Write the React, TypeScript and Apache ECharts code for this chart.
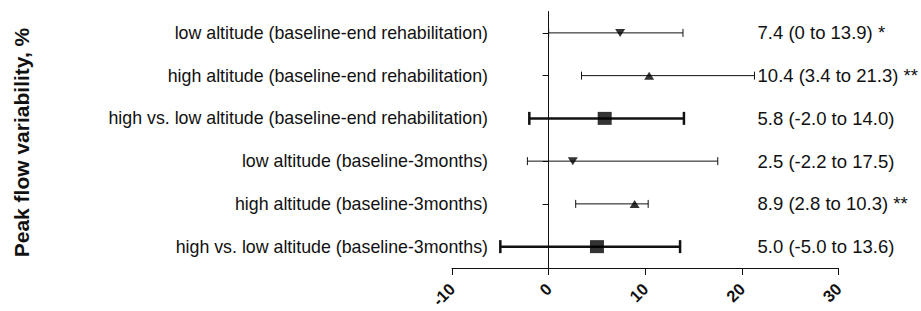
import React, { useEffect, useRef } from "react";
import * as echarts from "echarts";

const categories = [
  "low altitude (baseline-end rehabilitation)",
  "high altitude (baseline-end rehabilitation)",
  "high vs. low altitude (baseline-end rehabilitation)",
  "low altitude (baseline-3months)",
  "high altitude (baseline-3months)",
  "high vs. low altitude (baseline-3months)",
];
const estimates = [7.4, 10.4, 5.8, 2.5, 8.9, 5.0];
const lowerCI = [0, 3.4, -2.0, -2.2, 2.8, -5.0];
const upperCI = [13.9, 21.3, 14.0, 17.5, 10.3, 13.6];
const rowKind = ["low", "high", "diff", "low", "high", "diff"];
const annotations = [
  "7.4 (0 to 13.9) *",
  "10.4 (3.4 to 21.3) **",
  "5.8 (-2.0 to 14.0)",
  "2.5 (-2.2 to 17.5)",
  "8.9 (2.8 to 10.3) **",
  "5.0 (-5.0 to 13.6)",
];
const xTicks = [-10, 0, 10, 20, 30];
const yTitle = "Peak flow variability, %";

const FONT = "'Liberation Sans', Arial, sans-serif";
const INK = "#111";

export default function App() {
  const ref = useRef<HTMLDivElement>(null);
  useEffect(() => {
    if (!ref.current) return;
    const chart = echarts.init(ref.current, null, { renderer: "svg" });
    const ciData = categories.map((_, i) => [lowerCI[i], upperCI[i], i, rowKind[i] === "diff" ? 1 : 0]);
    const ptData = categories.map((_, i) => {
      const k = rowKind[i];
      if (k === "diff") return { value: [estimates[i], i], symbol: "rect", symbolSize: [14, 13] };
      if (k === "low") return { value: [estimates[i], i], symbol: "triangle", symbolSize: [10, 8], symbolRotate: 180 };
      return { value: [estimates[i], i], symbol: "triangle", symbolSize: [10, 8] };
    });
    chart.setOption({
      animation: false,
      backgroundColor: "#fff",
      grid: { left: 452, right: 81, top: 11.5, bottom: 40, containLabel: false },
      graphic: [
        {
          type: "text",
          x: 21,
          y: 142.5,
          rotation: Math.PI / 2,
          style: {
            text: yTitle,
            font: `bold 21px ${FONT}`,
            fill: INK,
            align: "center",
            verticalAlign: "middle",
          },
        },
      ],
      xAxis: {
        type: "value",
        min: xTicks[0],
        max: xTicks[xTicks.length - 1],
        interval: 10,
        splitLine: { show: false },
        axisLine: { show: true, onZero: false, lineStyle: { color: INK, width: 1 } },
        axisTick: { show: true, length: 7, lineStyle: { color: INK } },
        axisLabel: {
          rotate: 45,
          margin: 18,
          color: INK,
          fontWeight: "bold",
          fontSize: 16.5,
          fontFamily: FONT,
        },
      },
      yAxis: [
        {
          type: "category",
          inverse: true,
          data: categories,
          axisLine: { show: true, onZero: true, lineStyle: { color: INK, width: 1 } },
          axisTick: { show: true, alignWithLabel: true, length: 6, lineStyle: { color: INK } },
          axisLabel: { margin: -36, color: INK, fontSize: 17.8, fontFamily: FONT },
          splitLine: { show: false },
        },
        {
          type: "category",
          inverse: true,
          position: "right",
          offset: -82,
          data: annotations,
          axisLine: { show: false, onZero: false },
          axisTick: { show: false },
          axisLabel: { margin: 1, align: "left", color: INK, fontSize: 18.5, fontFamily: FONT },
          splitLine: { show: false },
        },
      ],
      series: [
        {
          type: "custom",
          yAxisIndex: 0,
          data: ciData,
          encode: { x: [0, 1], y: 2 },
          renderItem: (params: any, api: any) => {
            const lo = api.coord([api.value(0), api.value(2)]);
            const hi = api.coord([api.value(1), api.value(2)]);
            const thick = api.value(3) === 1;
            const lw = thick ? 2.5 : 1;
            const h = thick ? 6.5 : 4;
            const st = { stroke: INK, lineWidth: lw };
            return {
              type: "group",
              children: [
                { type: "line", shape: { x1: lo[0], y1: lo[1], x2: hi[0], y2: hi[1] }, style: st },
                { type: "line", shape: { x1: lo[0], y1: lo[1] - h, x2: lo[0], y2: lo[1] + h }, style: st },
                { type: "line", shape: { x1: hi[0], y1: hi[1] - h, x2: hi[0], y2: hi[1] + h }, style: st },
              ],
            };
          },
          z: 2,
        },
        {
          type: "scatter",
          yAxisIndex: 0,
          data: ptData,
          itemStyle: { color: "#000" },
          z: 3,
        },
      ],
    });
    return () => chart.dispose();
  }, []);
  return (
    <div
      ref={ref}
      style={{ position: "fixed", left: 0, top: 0, width: 921, height: 311, background: "#fff" }}
    />
  );
}
